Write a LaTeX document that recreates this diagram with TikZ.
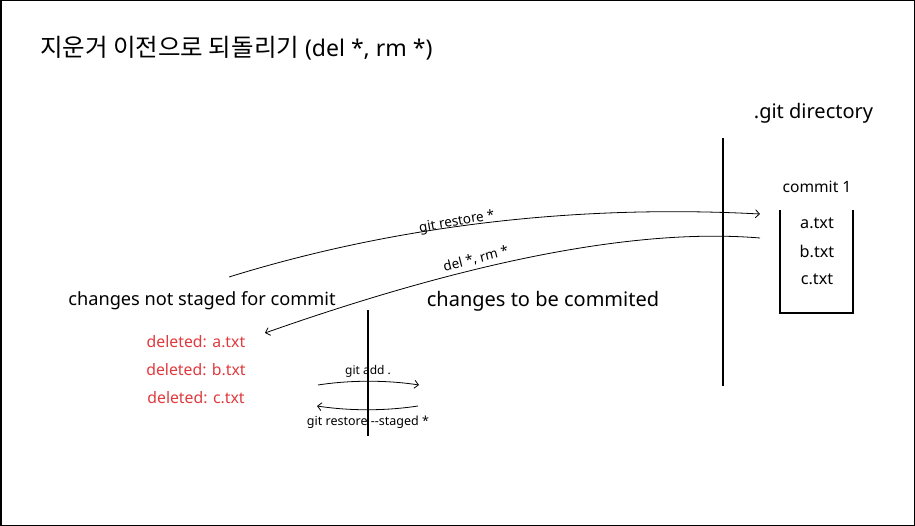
\documentclass[tikz,border=0pt]{standalone}
\usepackage{fontspec}
\setmainfont{Noto Sans}
\newfontfamily\krfont{Noto Sans CJK KR}
\usetikzlibrary{arrows.meta}
\definecolor{delred}{HTML}{E03A3E}
\tikzset{
  lbl/.style={inner sep=0pt, anchor=center},
  thinarrow/.style={line width=0.8pt, -{Straight Barb[length=4pt,width=8pt]}},
  divider/.style={line width=1.8pt},
  fs/.style={font=\fontsize{#1}{#1}\selectfont}
}
\begin{document}
\begin{tikzpicture}[x=1pt,y=-1pt]
\useasboundingbox (0,0) rectangle (915,526);
\draw[line width=1.5pt] (0.75,0.75) rectangle (914.25,525.25);

% title
\node[lbl, anchor=west, fs=23] (title) at (40,48) {{\krfont\fontsize{24.5}{24.5}\selectfont 지운거 이전으로 되돌리기} (del *, rm *)};

% .git directory
\node[lbl, fs=20] (gitdir) at (813.5,113) {.git directory};
\coordinate (v1top) at (723,138);
\coordinate (v1bot) at (723,386);
\draw[divider] (v1top) -- (v1bot);

% commit box
\node[lbl, fs=15.6] (commit) at (817,187) {commit 1};
\coordinate (boxtl) at (780,210);
\coordinate (boxbl) at (780,313);
\coordinate (boxbr) at (853,313);
\coordinate (boxtr) at (853,210);
\draw[divider] (boxtl) -- (boxbl) -- (boxbr) -- (boxtr);
\node[lbl, fs=16.2] (fa) at (817,223) {a.txt};
\node[lbl, fs=16.2] (fb) at (817,251) {b.txt};
\node[lbl, fs=16.2] (fc) at (817,279) {c.txt};

% areas
\node[lbl, fs=18.2] (unstaged) at (202,301) {changes not staged for commit};
\node[lbl, fs=20] (staged) at (543,301) {changes to be commited};
\coordinate (v2top) at (368,310);
\coordinate (v2bot) at (368,436);
\draw[divider] (v2top) -- (v2bot);

\node[lbl, fs=15.8, text=delred] (da) at (196,342) {deleted: a.txt};
\node[lbl, fs=15.8, text=delred] (db) at (196,370) {deleted: b.txt};
\node[lbl, fs=15.8, text=delred] (dc) at (196,398) {deleted: c.txt};

% long arrows
\coordinate (rs0) at (229,277);
\coordinate (rs1) at (760,214);
\draw[thinarrow] (rs0) .. controls (390,227) and (571,204) .. (rs1);
\node[lbl, fs=13.5, rotate=10] (rslbl) at (457,222) {git restore *};

\coordinate (dl0) at (760,238);
\coordinate (dl1) at (265,333);
\draw[thinarrow] (dl0) .. controls (640,228) and (475,259) .. (dl1);
\node[lbl, fs=13.5, rotate=14] (dllbl) at (476,259) {del *, rm *};

% small arrows
\coordinate (ad0) at (318,385);
\coordinate (ad1) at (419,385);
\draw[thinarrow] (ad0) .. controls (350,380) and (387,380) .. (ad1);
\node[lbl, fs=12] (adlbl) at (368,371) {git add .};

\coordinate (st0) at (418,406);
\coordinate (st1) at (317,406);
\draw[thinarrow] (st0) .. controls (385,411) and (350,411) .. (st1);
\node[lbl, fs=12.5] (stlbl) at (368,422) {git restore -{}-staged *};
\end{tikzpicture}
\end{document}
